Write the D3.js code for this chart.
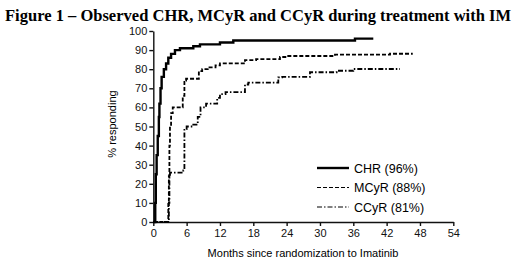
<!DOCTYPE html>
<html lang="en">
<head>
<meta charset="UTF-8">
<title>Figure 1</title>
<script src="https://d3js.org/d3.v7.min.js"></script>
<style>
    body { margin: 0; background: #fff; }
    svg { display: block; }
    .axis text { font-family: "Liberation Sans", Arial, sans-serif; font-size: 11px; fill: #111; }
    .axis path, .axis line { stroke: #111; stroke-width: 1.4px; }
</style>
</head>
<body>
<div id="container"></div>
<script>
    // tick values
    const xTicks = [0, 6, 12, 18, 24, 30, 36, 42, 48, 54];
    const yTicks = [0, 10, 20, 30, 40, 50, 60, 70, 80, 90, 100];

    // series: [month, % responding] (step curves)
    const chr = [[0,0],[0.3,0],[0.35,10],[0.45,25],[0.6,35],[0.8,45],[1.0,55],[1.1,62],[1.3,70],[1.5,76],
        [1.9,80],[2.3,83],[2.7,86],[3.2,88],[3.9,90],[4.8,91],[7.2,92],[8.4,93],[12,94],[14.4,95],[36.3,96],[39.6,96]];
    const mcyr = [[0,0],[2.7,10],[2.8,24],[2.9,40],[3.0,50],[3.2,57],[3.5,60],[5.3,66],[5.6,74],[5.9,75],
        [8.2,79],[8.8,80],[9.8,81],[11.2,82],[12,83],[16.5,84.8],[18.5,85.3],[22.8,86.4],[24,86.9],
        [32.7,87.6],[42.6,88.1],[46.7,88.1]];
    const ccyr = [[0,0],[2.8,10],[2.9,24],[3.0,25.8],[5.4,27],[5.6,48.7],[6.0,50],[7.2,51],[8.0,55],[8.5,60],
        [9.5,62],[11.5,65],[12.0,67],[13,68],[16.5,72],[17.1,73],[22.5,75.7],[23.2,76],[28.2,78.4],
        [33,79.2],[36,80.1],[44.4,80.1]];

    const names = ['CHR (96%)', 'MCyR (88%)', 'CCyR (81%)'];
    const seriesList = [chr, mcyr, ccyr];
    const dashes = [null, '4,2', '5,2,1.5,2'];
    const widths = [2.4, 1.8, 1.8];

    const width = 520, height = 269;
    const svg = d3.select('#container').append('svg')
        .attr('width', width).attr('height', height);

    // title
    svg.append('text')
        .attr('x', 5).attr('y', 21)
        .attr('font-family', '"Liberation Serif", "Times New Roman", serif')
        .attr('font-weight', 'bold')
        .attr('font-size', '16.5px')
        .attr('textLength', 506)
        .attr('lengthAdjust', 'spacingAndGlyphs')
        .text('Figure 1 \u2013 Observed CHR, MCyR and CCyR during treatment with IM');

    // scales
    const x = d3.scaleLinear().domain([0, 54]).range([153.3, 453.3]);
    const y = d3.scaleLinear().domain([0, 100]).range([222, 31]);

    // axes
    svg.append('g')
        .attr('class', 'axis')
        .attr('transform', 'translate(0,222)')
        .call(d3.axisBottom(x).tickValues(xTicks).tickSize(4).tickSizeOuter(0).tickPadding(3));

    svg.append('g')
        .attr('class', 'axis')
        .attr('transform', 'translate(153.3,0)')
        .call(d3.axisLeft(y).tickValues(yTicks).tickSize(4).tickSizeOuter(0).tickPadding(2));

    // axis titles
    svg.append('text')
        .attr('x', 303).attr('y', 257)
        .attr('text-anchor', 'middle')
        .attr('font-family', '"Liberation Sans", Arial, sans-serif')
        .attr('font-size', '11px')
        .text('Months since randomization to Imatinib');

    svg.append('text')
        .attr('transform', 'translate(116,124) rotate(-90)')
        .attr('text-anchor', 'middle')
        .attr('font-family', '"Liberation Sans", Arial, sans-serif')
        .attr('font-size', '11px')
        .text('% responding');

    // curves
    const line = d3.line()
        .x(d => x(d[0]))
        .y(d => y(d[1]))
        .curve(d3.curveStepAfter);

    // draw dotted ones first, solid on top
    [2, 1, 0].forEach(i => {
        svg.append('path')
            .datum(seriesList[i])
            .attr('fill', 'none')
            .attr('stroke', '#000')
            .attr('stroke-width', widths[i])
            .attr('stroke-dasharray', dashes[i])
            .attr('d', line);
    });

    // legend
    const legend = svg.selectAll('.legend')
        .data(names).enter()
        .append('g')
        .attr('class', 'legend')
        .attr('transform', (d, i) => 'translate(317,' + (168 + i * 19.5) + ')');

    legend.append('line')
        .attr('x1', 0).attr('x2', 32)
        .attr('stroke', '#000')
        .attr('stroke-width', (d, i) => i === 0 ? 2.4 : 1.2)
        .attr('stroke-dasharray', (d, i) => dashes[i]);

    legend.append('text')
        .attr('x', 37).attr('y', 4.5)
        .attr('font-family', '"Liberation Sans", Arial, sans-serif')
        .attr('font-size', '12.5px')
        .text(d => d);
</script>
</body>
</html>
